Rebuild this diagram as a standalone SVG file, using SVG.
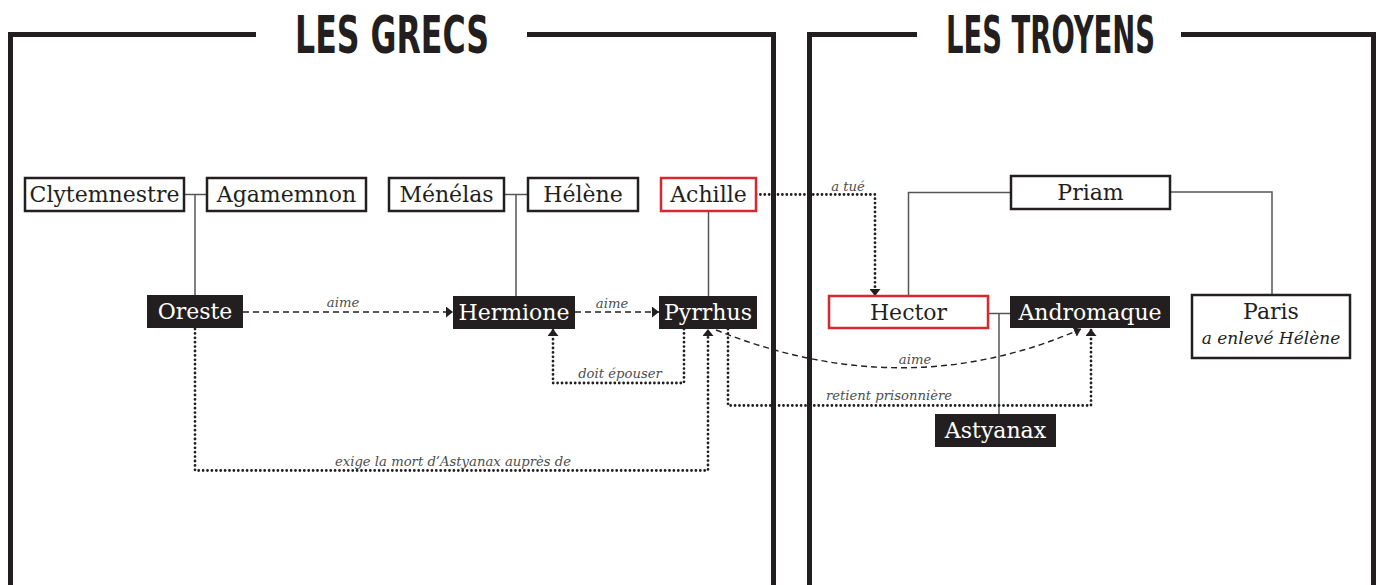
<svg xmlns="http://www.w3.org/2000/svg" width="1380" height="585" viewBox="0 0 1380 585">
  <style>
    .frame { fill: none; stroke: #231f20; stroke-width: 5; }
    .title { font-family: "Liberation Sans Narrow", "DejaVu Sans Condensed", "Liberation Sans", sans-serif; font-weight: bold; font-size: 52px; fill: #231f20; font-stretch: condensed; }
    .box { fill: #ffffff; stroke: #231f20; stroke-width: 2.5; }
    .red { fill: #ffffff; stroke: #d7282f; stroke-width: 2.5; }
    .dark { fill: #231f20; stroke: none; }
    .nt { font-family: "DejaVu Serif", "Liberation Serif", serif; font-size: 22px; fill: #231f20; text-anchor: middle; }
    .wt { font-family: "DejaVu Serif", "Liberation Serif", serif; font-size: 22px; fill: #ffffff; text-anchor: middle; }
    .it { font-family: "DejaVu Serif", "Liberation Serif", serif; font-style: italic; font-size: 17px; fill: #231f20; text-anchor: middle; }
    .lbl { font-family: "DejaVu Serif", "Liberation Serif", serif; font-style: italic; font-size: 13.2px; fill: #4d4d4d; text-anchor: middle; }
    .solid { fill: none; stroke: #555555; stroke-width: 1.5; }
    .dash { fill: none; stroke: #231f20; stroke-width: 1.4; stroke-dasharray: 6 4; }
    .dot { fill: none; stroke: #231f20; stroke-width: 2.8; stroke-dasharray: 0 4.4; stroke-linecap: round; }
  </style>
  <defs>
    <marker id="arr" viewBox="0 0 7 11" refX="7" refY="5.5" markerWidth="7" markerHeight="11" markerUnits="userSpaceOnUse" orient="auto">
      <path d="M0,0 L7,5.5 L0,11 z" fill="#231f20"/>
    </marker>
  </defs>

  <rect width="1380" height="585" fill="#ffffff"/>

  <g id="frames">
    <path class="frame" d="M256,34.5 H10.5 V585"/>
    <path class="frame" d="M527,34.5 H773.5 V585"/>
    <path class="frame" d="M917,34.5 H809.5 V585"/>
    <path class="frame" d="M1181,34.5 H1373.5 V585"/>
    <text class="title" x="295" y="53" textLength="194" lengthAdjust="spacingAndGlyphs">LES GRECS</text>
    <text class="title" x="946" y="53" textLength="209" lengthAdjust="spacingAndGlyphs">LES TROYENS</text>
  </g>

  <g id="connectors">
    <path class="solid" d="M184,194.5 H207"/>
    <path class="solid" d="M195,194.5 V295"/>
    <path class="solid" d="M504,194.5 H528"/>
    <path class="solid" d="M516,194.5 V296"/>
    <path class="solid" d="M708.5,211 V296"/>
    <path class="solid" d="M1011,192.5 H908.5 V296"/>
    <path class="solid" d="M1170,192 H1272 V295"/>
    <path class="solid" d="M988,313.5 H1010"/>
    <path class="solid" d="M999,313.5 V414"/>

    <path class="dash" d="M243,312 H453" marker-end="url(#arr)"/>
    <path class="dash" d="M575,312 H659" marker-end="url(#arr)"/>
    <path class="dash" d="M716,330 Q905,406 1081,329" marker-end="url(#arr)"/>

    <path class="dot" d="M756,194.5 H875 V296" marker-end="url(#arr)"/>
    <path class="dot" d="M684,329 V383 H553 V329" marker-end="url(#arr)"/>
    <path class="dot" d="M195,329 V470.5 H708 V329" marker-end="url(#arr)"/>
    <path class="dot" d="M728,329 V405.5 H1091 V329" marker-end="url(#arr)"/>

    <text class="lbl" x="343" y="307">aime</text>
    <text class="lbl" x="612" y="308">aime</text>
    <text class="lbl" x="620" y="378">doit épouser</text>
    <text class="lbl" x="453" y="466">exige la mort d’Astyanax auprès de</text>
    <text class="lbl" x="848" y="191">a tué</text>
    <text class="lbl" x="915" y="364">aime</text>
    <text class="lbl" x="889" y="400">retient prisonnière</text>
  </g>

  <g id="clytemnestre">
    <rect class="box" x="25" y="178" width="159" height="33"/>
    <text class="nt" x="104.5" y="202">Clytemnestre</text>
  </g>
  <g id="agamemnon">
    <rect class="box" x="207" y="178" width="159" height="33"/>
    <text class="nt" x="286.5" y="202">Agamemnon</text>
  </g>
  <g id="menelas">
    <rect class="box" x="389" y="178" width="115" height="33"/>
    <text class="nt" x="446.5" y="202">Ménélas</text>
  </g>
  <g id="helene">
    <rect class="box" x="528" y="178" width="110" height="33"/>
    <text class="nt" x="583" y="202">Hélène</text>
  </g>
  <g id="achille">
    <rect class="red" x="661" y="178" width="95" height="33"/>
    <text class="nt" x="708.5" y="202">Achille</text>
  </g>
  <g id="oreste">
    <rect class="dark" x="147" y="295" width="96" height="33"/>
    <text class="wt" x="195" y="319">Oreste</text>
  </g>
  <g id="hermione">
    <rect class="dark" x="453" y="296" width="122" height="33"/>
    <text class="wt" x="514" y="320">Hermione</text>
  </g>
  <g id="pyrrhus">
    <rect class="dark" x="659" y="296" width="98" height="33"/>
    <text class="wt" x="708" y="320">Pyrrhus</text>
  </g>
  <g id="priam">
    <rect class="box" x="1011" y="176" width="159" height="33"/>
    <text class="nt" x="1090.5" y="200">Priam</text>
  </g>
  <g id="hector">
    <rect class="red" x="829" y="296" width="159" height="32"/>
    <text class="nt" x="908.5" y="320">Hector</text>
  </g>
  <g id="andromaque">
    <rect class="dark" x="1010" y="296" width="160" height="32"/>
    <text class="wt" x="1090" y="320">Andromaque</text>
  </g>
  <g id="paris">
    <rect class="box" x="1192" y="295" width="158" height="63"/>
    <text class="nt" x="1271" y="319">Paris</text>
    <text class="it" x="1271" y="344">a enlevé Hélène</text>
  </g>
  <g id="astyanax">
    <rect class="dark" x="935" y="414" width="121" height="33"/>
    <text class="wt" x="995.5" y="438">Astyanax</text>
  </g>
</svg>
